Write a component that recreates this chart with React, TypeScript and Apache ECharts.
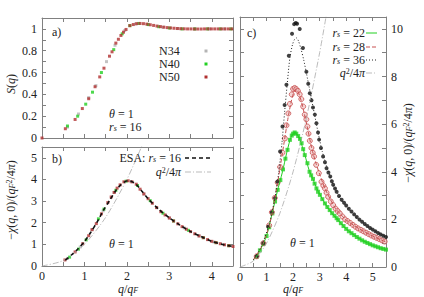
import React, { useEffect, useRef } from 'react';
import * as echarts from 'echarts';

// ---------- data ----------
// panel a: S(q)
const sN34 = [[0.6,0.1],[0.86,0.22],[1.1,0.37],[1.27,0.48],[1.52,0.7],[1.72,0.85],[1.95,0.985],[2.2,1.045],[2.5,1.04],[2.85,1.015],[3.2,1.003],[3.6,1.0],[3.95,1.0],[4.3,1.0]];
const sN40 = [[0.6,0.11],[0.84,0.2],[1.03,0.31],[1.19,0.42],[1.4,0.6],[1.69,0.81],[1.89,0.955],[2.07,1.03],[2.28,1.05],[2.5,1.04],[2.75,1.02],[3.0,1.008],[3.3,1.0],[3.6,1.0],[3.9,1.0],[4.2,1.0],[4.45,1.0]];
const sN50 = [[0,0],[0.55,0.085],[0.78,0.17],[0.95,0.27],[1.1,0.36],[1.25,0.47],[1.36,0.56],[1.46,0.64],[1.59,0.75],[1.65,0.79],[1.74,0.87],[1.8,0.905],[1.86,0.94],[1.92,0.97],[1.98,0.995],[2.07,1.03],[2.15,1.04],[2.23,1.048],[2.31,1.05],[2.39,1.048],[2.47,1.044],[2.55,1.038],[2.63,1.032],[2.71,1.026],[2.79,1.021],[2.87,1.016],[2.95,1.012],[3.03,1.009],[3.11,1.006],[3.19,1.004],[3.27,1.002],[3.35,1.001],[3.43,1.0],[3.51,1.0],[3.59,0.999],[3.67,0.999],[3.75,0.999],[3.83,1.0],[3.91,1.0],[3.99,1.0],[4.07,1.0],[4.15,1.0],[4.23,1.0],[4.31,1.0],[4.39,1.0],[4.47,1.0]];

// panel b: -chi, r_s = 16
const chiN34 = [[0.6,0.35],[0.9,0.88],[1.18,1.68],[1.44,2.55],[1.7,3.4],[2.1,3.9],[2.4,3.33],[2.7,2.7],[3.0,2.22],[3.35,1.76],[3.7,1.39],[4.05,1.11],[4.4,0.94]];
const chiN40 = [[0.65,0.41],[0.86,0.78],[1.04,1.21],[1.33,2.18],[1.46,2.63],[1.74,3.5],[1.98,3.92],[2.25,3.72],[2.55,3.02],[2.85,2.44],[3.1,2.08],[3.45,1.65],[3.8,1.31],[4.1,1.08],[4.4,0.94]];
const chiN50 = [[0.54,0.28],[0.78,0.65],[0.96,1.03],[1.1,1.4],[1.18,1.68],[1.28,1.96],[1.4,2.41],[1.55,2.93],[1.63,3.19],[1.7,3.4],[1.77,3.6],[1.84,3.75],[1.93,3.89],[2.03,3.94],[2.12,3.89],[2.22,3.78],[2.31,3.55],[2.4,3.33],[2.5,3.11],[2.6,2.9],[2.7,2.7],[2.8,2.51],[2.9,2.36],[3.0,2.22],[3.1,2.08],[3.2,1.95],[3.3,1.82],[3.4,1.7],[3.5,1.59],[3.6,1.49],[3.7,1.39],[3.8,1.31],[3.9,1.22],[4.0,1.14],[4.1,1.08],[4.2,1.03],[4.3,0.98],[4.4,0.94],[4.5,0.9]];
const esa16 = [[0.55,0.27],[0.7,0.52],[0.85,0.8],[1.0,1.13],[1.15,1.56],[1.3,2.04],[1.45,2.58],[1.6,3.05],[1.75,3.52],[1.85,3.74],[1.95,3.89],[2.03,3.94],[2.12,3.9],[2.22,3.77],[2.35,3.47],[2.5,3.11],[2.75,2.62],[3.0,2.22],[3.25,1.89],[3.5,1.59],[3.75,1.36],[4.0,1.14],[4.25,1.0],[4.5,0.9]];
const qSqB = [[0,0],[0.5,0.25],[1,1],[1.5,2.25],[2,4],[2.4,5.76]];

// panel c
const pts22 = [[0.63,0.43],[0.75,0.7],[0.88,0.97],[1.0,1.3],[1.1,1.67],[1.22,2.25],[1.32,2.75],[1.42,3.24],[1.52,3.65],[1.62,4.1],[1.71,4.55],[1.79,4.92],[1.88,5.34],[1.95,5.52],[2.0,5.6],[2.06,5.65],[2.12,5.6],[2.19,5.5],[2.26,5.38],[2.32,5.2],[2.38,4.95],[2.44,4.7],[2.54,4.36],[2.62,4.0],[2.68,3.85],[2.75,3.7],[2.81,3.5],[2.88,3.3],[2.94,3.16],[3.01,3.03],[3.1,2.85],[3.2,2.67],[3.29,2.52],[3.38,2.39],[3.47,2.26],[3.56,2.15],[3.64,2.05],[3.7,1.97],[3.8,1.84],[3.9,1.72],[4.0,1.6],[4.1,1.5],[4.2,1.42],[4.3,1.34],[4.4,1.26],[4.5,1.19],[4.6,1.12],[4.7,1.06],[4.8,1.01],[4.9,0.96],[5.0,0.91],[5.1,0.87],[5.2,0.83],[5.3,0.79],[5.4,0.76],[5.5,0.73]];
const pts28 = [[0.63,0.45],[0.88,1.0],[1.1,1.75],[1.2,2.3],[1.31,2.9],[1.42,3.55],[1.51,4.2],[1.6,4.8],[1.69,5.4],[1.75,5.95],[1.82,6.45],[1.88,6.85],[1.95,7.25],[2.0,7.48],[2.06,7.52],[2.12,7.47],[2.18,7.4],[2.25,7.25],[2.31,7.05],[2.38,6.74],[2.44,6.4],[2.5,6.2],[2.54,5.9],[2.58,5.6],[2.63,5.3],[2.69,5.0],[2.74,4.8],[2.79,4.64],[2.87,4.29],[2.97,3.94],[3.07,3.58],[3.14,3.42],[3.2,3.3],[3.26,3.12],[3.32,2.95],[3.42,2.75],[3.51,2.6],[3.6,2.45],[3.68,2.35],[3.76,2.25],[3.86,2.12],[3.96,2.0],[4.05,1.93],[4.15,1.85],[4.25,1.77],[4.35,1.69],[4.45,1.62],[4.55,1.56],[4.65,1.5],[4.75,1.44],[4.85,1.38],[4.95,1.32],[5.05,1.27],[5.15,1.22],[5.25,1.17],[5.35,1.12],[5.45,1.07]];
const pts36 = [[0.63,0.45],[0.88,1.0],[1.06,1.69],[1.2,2.3],[1.32,2.9],[1.41,3.58],[1.51,4.85],[1.6,5.9],[1.68,6.8],[1.75,7.65],[1.84,8.87],[1.96,9.8],[2.04,10.2],[2.1,10.25],[2.15,10.22],[2.25,10.0],[2.37,9.2],[2.5,8.2],[2.57,7.7],[2.63,7.3],[2.69,7.0],[2.75,6.7],[2.82,6.4],[2.88,6.04],[2.94,5.65],[2.98,5.35],[3.05,5.0],[3.13,4.64],[3.2,4.4],[3.26,4.15],[3.33,3.97],[3.4,3.8],[3.46,3.6],[3.51,3.45],[3.58,3.3],[3.64,3.16],[3.73,2.98],[3.83,2.82],[3.92,2.7],[4.0,2.58],[4.1,2.45],[4.2,2.33],[4.3,2.21],[4.4,2.1],[4.5,1.99],[4.6,1.9],[4.7,1.81],[4.8,1.72],[4.9,1.64],[5.0,1.57],[5.1,1.5],[5.2,1.43],[5.3,1.37],[5.4,1.31],[5.5,1.26]];
const esa22 = [[0.5,0.3],[0.63,0.45],[0.8,0.8],[1.0,1.3],[1.2,2.2],[1.4,3.15],[1.6,4.0],[1.75,4.75],[1.88,5.32],[1.97,5.55],[2.06,5.63],[2.15,5.57],[2.25,5.38],[2.35,5.05],[2.45,4.68],[2.6,4.08],[2.75,3.68],[2.9,3.28],[3.1,2.86],[3.3,2.5],[3.5,2.2],[3.75,1.9],[4.0,1.6],[4.5,1.19],[5.0,0.91],[5.5,0.73]];
const esa28 = [[0.5,0.3],[0.8,0.82],[1.1,1.72],[1.3,2.8],[1.5,4.1],[1.65,5.15],[1.8,6.2],[1.92,6.9],[2.02,7.32],[2.1,7.45],[2.18,7.38],[2.3,7.0],[2.42,6.45],[2.55,5.8],[2.7,5.0],[2.85,4.4],[3.0,3.9],[3.2,3.3],[3.4,2.85],[3.6,2.45],[3.8,2.2],[4.0,1.97],[4.5,1.6],[5.0,1.3],[5.5,1.05]];
const esa36 = [[0.5,0.3],[0.8,0.85],[1.1,1.8],[1.3,2.8],[1.45,3.9],[1.58,5.2],[1.68,6.5],[1.78,7.7],[1.88,8.8],[1.98,9.35],[2.06,9.57],[2.13,9.62],[2.2,9.5],[2.3,9.15],[2.4,8.7],[2.5,8.15],[2.65,7.3],[2.8,6.45],[2.95,5.6],[3.1,4.85],[3.3,4.1],[3.5,3.5],[3.75,2.95],[4.0,2.55],[4.5,1.98],[5.0,1.57],[5.5,1.26]];
const qSqC = [[0,0],[0.5,0.25],[1,1],[1.5,2.25],[2,4],[2.5,6.25],[3,9],[3.3,10.89]];

// ---------- styling ----------
const F = '"Liberation Serif", "DejaVu Serif", serif';
const FS = 12;
const TXT = '#222';
const AX = '#808080';
const GRAY = '#b4b4b4';
const GREEN = '#22d022';
const DRED = '#b03030';
const RED = '#c85050';

const base = { fontFamily: F, fontSize: FS, color: TXT, lineHeight: 11, verticalAlign: 'middle' };
const rich = {
  n: { ...base },
  i: { ...base, fontStyle: 'italic' },
  s: { ...base, fontSize: 8, lineHeight: 6, fontStyle: 'italic', verticalAlign: 'bottom' },
  su: { ...base, fontSize: 8, lineHeight: 6, verticalAlign: 'top' },
};

const txt = (x: number, y: number, text: string, align = 'left', rotation = 0) => ({
  type: 'text', x, y, rotation, z: 10,
  style: { text, rich, align, textAlign: align, verticalAlign: 'middle', textVerticalAlign: 'middle', fill: TXT, fontFamily: F, fontSize: FS },
});
const seg = (x1: number, y: number, x2: number, stroke: string, lineWidth: number, lineDash: number[] | null) => ({
  type: 'line', z: 10, shape: { x1, y1: y, x2, y2: y },
  style: { stroke, lineWidth, lineDash: lineDash || undefined },
});
const sq = (x: number, y: number, fill: string) => ({
  type: 'rect', z: 10, shape: { x: x - 1.5, y: y - 1.5, width: 3, height: 3 }, style: { fill },
});

const intFmt = (v: number) => (Math.abs(v - Math.round(v)) < 1e-6 ? String(Math.round(v)) : '');
const evenFmt = (v: number) => {
  const k = Math.round(v);
  return Math.abs(v - k) < 1e-6 && k % 2 === 0 ? String(k) : '';
};
const fifthFmt = (v: number) => {
  const k = Math.round(v * 10);
  return Math.abs(v * 10 - k) < 1e-6 && k % 2 === 0 ? String(k / 10) : '';
};

const axisCommon = (gridIndex: number, max: number, interval: number, position: string, formatter: any, margin = 5) => ({
  type: 'value', gridIndex, min: 0, max, interval, position,
  axisLine: { show: true, onZero: false, lineStyle: { color: AX, width: 1 } },
  axisTick: { show: true, inside: true, length: 4, lineStyle: { color: AX } },
  splitLine: { show: false },
  axisLabel: formatter
    ? { show: true, formatter, fontFamily: F, fontSize: FS, lineHeight: 12, color: TXT, margin }
    : { show: false },
});

const scat = (data: number[][], xi: number, yi: number, color: string, symbol: string, size: number, extra: any = {}) => ({
  type: 'scatter', data, xAxisIndex: xi, yAxisIndex: yi, symbol, symbolSize: size,
  itemStyle: { color, ...extra }, silent: true,
});
const line = (data: number[][], xi: number, yi: number, color: string, width: number, dash: any) => ({
  type: 'line', data, xAxisIndex: xi, yAxisIndex: yi, showSymbol: false, symbol: 'none', smooth: 0.25,
  lineStyle: { color, width, type: dash }, silent: true, clip: true,
});

const option = {
  animation: false,
  backgroundColor: '#fff',
  textStyle: { fontFamily: F },
  grid: [
    { left: 42, top: 18, width: 191, height: 120, outerBoundsMode: 'none' },
    { left: 42, top: 147, width: 191, height: 119, outerBoundsMode: 'none' },
    { left: 240, top: 17, width: 146, height: 250, outerBoundsMode: 'none' },
  ],
  xAxis: [
    axisCommon(0, 4.5, 0.5, 'bottom', null),
    axisCommon(0, 4.5, 0.5, 'top', null),
    axisCommon(1, 4.5, 0.5, 'bottom', intFmt, 4),
    axisCommon(1, 4.5, 0.5, 'top', null),
    axisCommon(2, 5.5, 0.5, 'bottom', intFmt, 4),
    axisCommon(2, 5.5, 0.5, 'top', null),
  ],
  yAxis: [
    axisCommon(0, 1.1, 0.1, 'left', fifthFmt),
    axisCommon(0, 1.1, 0.1, 'right', null),
    axisCommon(1, 5.5, 1, 'left', intFmt),
    axisCommon(1, 5.5, 1, 'right', null),
    axisCommon(2, 10.5, 1, 'left', null),
    axisCommon(2, 10.5, 1, 'right', evenFmt),
  ],
  series: [
    scat(sN34, 0, 0, GRAY, 'rect', 3),
    scat(sN40, 0, 0, GREEN, 'rect', 3),
    scat(sN50, 0, 0, DRED, 'rect', 3),

    line(qSqB, 2, 2, '#aaaaaa', 0.8, [6, 2, 1, 2]),
    scat(chiN34, 2, 2, GRAY, 'rect', 3),
    scat(chiN40, 2, 2, GREEN, 'rect', 3),
    scat(chiN50, 2, 2, DRED, 'rect', 3),
    line(esa16, 2, 2, '#111', 1.6, [4, 3]),

    line(qSqC, 4, 5, '#aaaaaa', 0.8, [6, 2, 1, 2]),
    line(esa22, 4, 5, GREEN, 1, 'solid'),
    line(esa28, 4, 5, RED, 1, [4, 2]),
    line(esa36, 4, 5, '#222', 1, [1, 2]),
    scat(pts22, 4, 5, GREEN, 'rect', 4),
    scat(pts28, 4, 5, 'rgba(235,180,180,0.7)', 'circle', 5, { borderColor: RED, borderWidth: 1 }),
    scat(pts36, 4, 5, '#111', 'circle', 4),
  ],
  graphic: [
    txt(52, 32, '{n|a)}'),
    txt(52, 159, '{n|b)}'),
    txt(247, 33, '{n|c)}'),
    txt(109, 114, '{i|θ}{n| = 1}'),
    txt(109, 127, '{i|r}{s|s}{n| = 16}'),
    txt(109, 244, '{i|θ}{n| = 1}'),
    txt(290, 243, '{i|θ}{n| = 1}'),

    txt(159, 51, '{n|N34}'), sq(206, 51, GRAY),
    txt(159, 64, '{n|N40}'), sq(206, 64, GREEN),
    txt(159, 77, '{n|N50}'), sq(206, 77, DRED),

    txt(181, 158, '{n|ESA: }{i|r}{s|s}{n| = 16}', 'right'),
    seg(185, 158, 211, '#111', 1.6, [4, 3]),
    txt(181, 172, '{i|q}{su|2}{n|/4}{i|π}', 'right'),
    seg(185, 172, 211, '#aaaaaa', 0.8, [6, 2, 1, 2]),

    txt(365, 33, '{i|r}{s|s}{n| = 22}', 'right'),
    seg(366, 33, 377, GREEN, 1, null),
    txt(365, 47, '{i|r}{s|s}{n| = 28}', 'right'),
    seg(366, 47, 377, RED, 1, [4, 2]),
    txt(365, 60, '{i|r}{s|s}{n| = 36}', 'right'),
    seg(366, 60, 377, '#222', 1, [1, 2]),
    txt(365, 73, '{i|q}{su|2}{n|/4}{i|π}', 'right'),
    seg(366, 73, 377, '#aaaaaa', 0.8, [6, 2, 1, 2]),

    txt(11, 84, '{i|S}{n|(}{i|q}{n|)}', 'center', Math.PI / 2),
    txt(11, 200, '{n|−}{i|χ}{n|(}{i|q}{n|, 0)/(}{i|q}{s|F}{su|2}{n|/4}{i|π}{n|)}', 'center', Math.PI / 2),
    txt(408, 143, '{n|−}{i|χ}{n|(}{i|q}{n|, 0)/(}{i|q}{s|F}{su|2}{n|/4}{i|π}{n|)}', 'center', Math.PI / 2),
    txt(128, 289, '{i|q}{n|/}{i|q}{s|F}', 'center'),
    txt(293, 289, '{i|q}{n|/}{i|q}{s|F}', 'center'),
  ],
};

export default function App() {
  const ref = useRef<HTMLDivElement>(null);
  useEffect(() => {
    const chart = echarts.init(ref.current as HTMLDivElement, null, { renderer: 'svg' });
    chart.setOption(option as any);
    return () => chart.dispose();
  }, []);
  return <div ref={ref} style={{ position: 'fixed', left: 0, top: 0, width: 424, height: 297 }} />;
}
